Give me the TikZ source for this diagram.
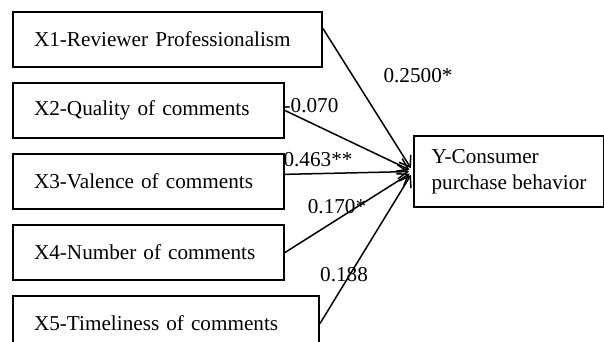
\documentclass[tikz,border=0pt]{standalone}
\usepackage{fontspec}
\setmainfont{Liberation Serif}
\usetikzlibrary{arrows.meta}

\begin{document}
\begin{tikzpicture}[x=0.5pt,y=-0.5pt,font=\fontsize{10.6}{13}\selectfont,
    >={Straight Barb[length=5pt,width=7pt]},shorten >=2pt]
    \tikzstyle{factor}=[draw,line width=1pt,anchor=north west,minimum height=27.5pt,inner xsep=10.5pt,align=left]
    \tikzstyle{result}=[draw,line width=1pt,anchor=north west,minimum height=35.5pt,minimum width=95pt,align=left]
    \tikzstyle{effect}=[->,line width=0.75pt]
    \tikzstyle{coef}=[inner sep=0pt]

    \path[use as bounding box,clip] (0,0) rectangle (604,342);

    % Draw the factor boxes
    \foreach \name/\y/\w/\txt in {X1/11/309/X1-Reviewer Professionalism,
                                  X2/82/271/X2-Quality of comments,
                                  X3/153/271/X3-Valence of comments,
                                  X4/224/271/X4-Number of comments,
                                  X5/295/306/X5-Timeliness of comments}
    {
        \pgfmathsetmacro\tw{\w/2-21}
        \node[factor,text width=\tw pt] (\name) at (12,\y) {\txt};
    }

    % Draw the outcome box
    \node[result] (Y) at (413,135) {Y-Consumer\\purchase behavior};

    % Connect every factor with the outcome
    \draw[effect] (X1.4) -- (Y.west);
    \draw[effect] (X2.east) -- (Y.west);
    \draw[effect] (X3.3) -- (Y.west);
    \draw[effect] (X4.east) -- (Y.west);
    \draw[effect] (X5.east) -- (Y.west);

    % Path coefficients
    \node[coef] (c1) at (418,76) {0.2500*};
    \node[coef] (c2) at (311,106) {-0.070};
    \node[coef] (c3) at (318,160) {0.463**};
    \node[coef] (c4) at (337,207) {0.170*};
    \node[coef] (c5) at (344,275) {0.188};
\end{tikzpicture}
\end{document}
